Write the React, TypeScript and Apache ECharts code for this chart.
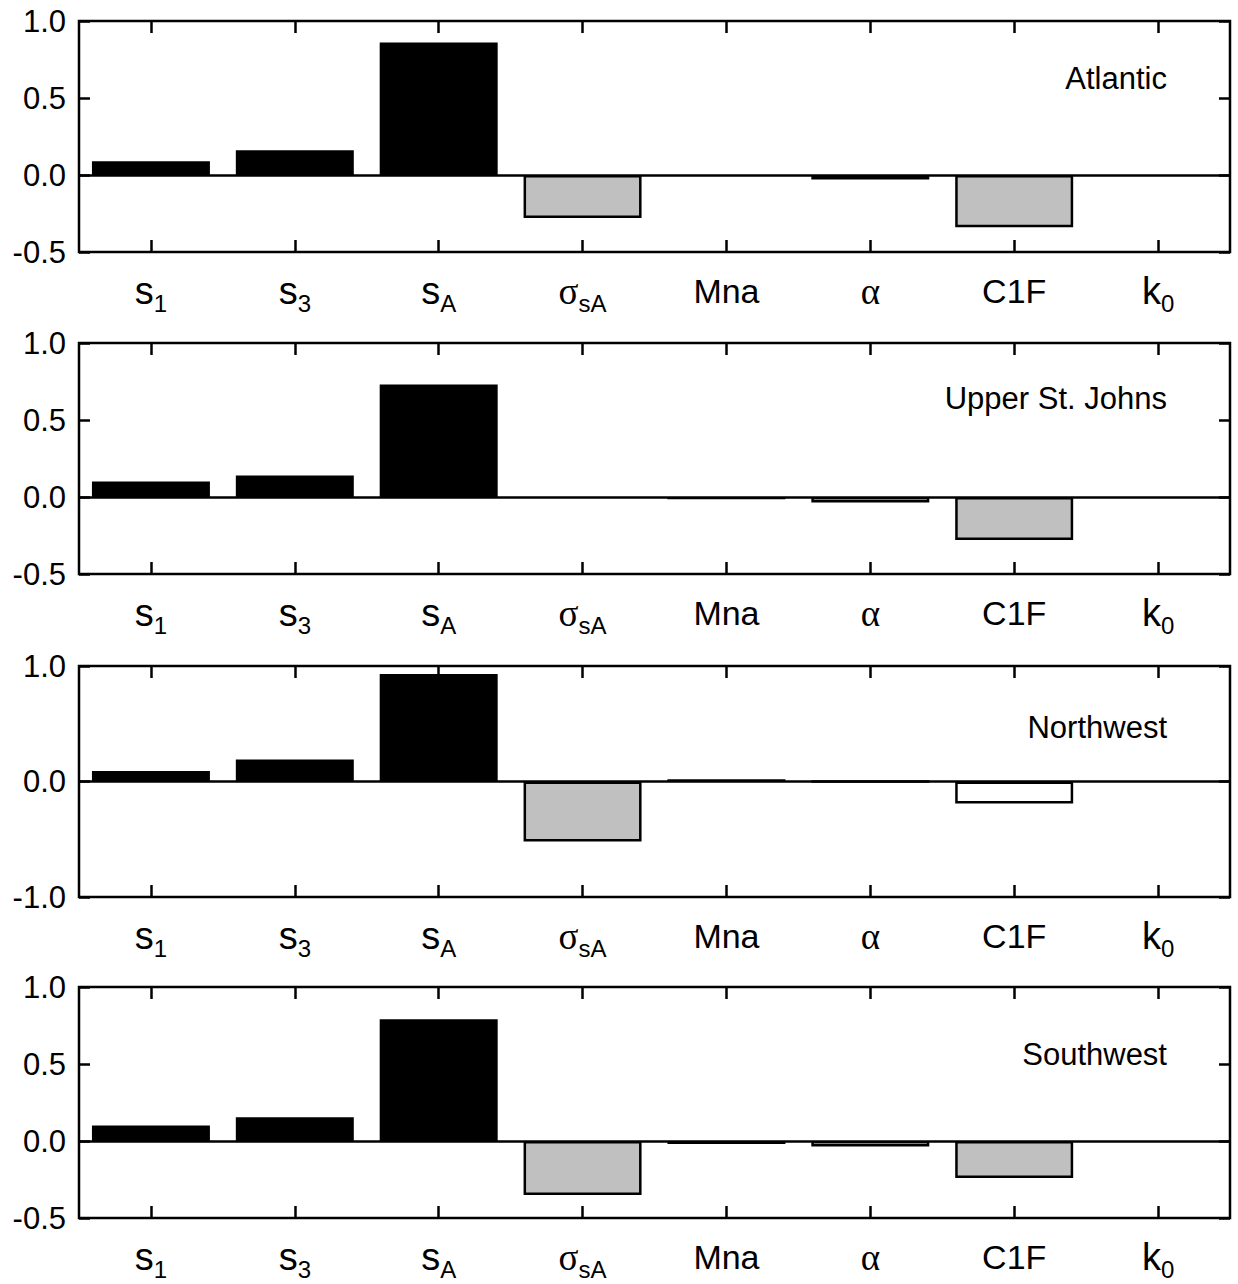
import React, { useEffect, useRef } from "react";
import * as echarts from "echarts";

const CATEGORIES = ["s1", "s3", "sA", "σsA", "Mna", "α", "C1F", "k0"];
const CATEGORY_LABELS = [
  "{s|s}{sub|1}",
  "{s|s}{sub|3}",
  "{s|s}{sub|A}",
  "{gr|σ}{sub|sA}",
  "{m|Mna}",
  "{gr|α}",
  "{m|C1F}",
  "{s|k}{sub|0}",
];
const PANEL_NAMES = ["Atlantic", "Upper St. Johns", "Northwest", "Southwest"];

const ATLANTIC = [0.09, 0.16, 0.86, -0.28, 0, -0.03, -0.34, 0];
const UPPER_ST_JOHNS = [0.1, 0.14, 0.73, 0, -0.015, -0.035, -0.28, 0];
const NORTHWEST = [0.09, 0.19, 0.93, -0.52, 0.02, 0, -0.19, 0];
const SOUTHWEST = [0.1, 0.155, 0.79, -0.35, -0.02, -0.035, -0.24, 0];

// k = black, g = grey, w = white (outlined)
const ATLANTIC_FILL = ["k", "k", "k", "g", "k", "w", "g", "k"];
const UPPER_ST_JOHNS_FILL = ["k", "k", "k", "k", "k", "w", "g", "k"];
const NORTHWEST_FILL = ["k", "k", "k", "g", "k", "w", "w", "k"];
const SOUTHWEST_FILL = ["k", "k", "k", "g", "k", "w", "g", "k"];

const Y_MIN = [-0.5, -0.5, -1, -0.5];
const Y_MAX = [1, 1, 1, 1];
const Y_INTERVAL = [0.5, 0.5, 1, 0.5];

const PANEL_VALUES = [ATLANTIC, UPPER_ST_JOHNS, NORTHWEST, SOUTHWEST];
const PANEL_FILLS = [ATLANTIC_FILL, UPPER_ST_JOHNS_FILL, NORTHWEST_FILL, SOUTHWEST_FILL];

const GRID_TOPS = [21, 343, 666, 987];
const GRID_HEIGHT = 231;
const TITLE_Y = [78, 398, 727, 1054];
const FONT = "'Liberation Sans', Arial, sans-serif";
const COLORS: Record<string, string> = { k: "#000000", g: "#c0c0c0", w: "#ffffff" };

export default function App() {
  const ref = useRef<HTMLDivElement>(null);
  useEffect(() => {
    if (!ref.current) return;
    const chart = echarts.init(ref.current, null, { renderer: "svg" });

    const grid: any[] = [];
    const xAxis: any[] = [];
    const yAxis: any[] = [];
    const series: any[] = [];
    const graphic: any[] = [];

    const tickStyle = { color: "#000", width: 2.5 };
    const LH = 54;

    for (let i = 0; i < 4; i++) {
      grid.push({
        left: 79,
        right: 8,
        top: GRID_TOPS[i],
        height: GRID_HEIGHT,
        show: true,
        borderColor: "#000",
        borderWidth: 2.5,
        backgroundColor: "transparent",
      });
      xAxis.push({
        type: "category",
        gridIndex: i,
        data: CATEGORIES,
        position: "bottom",
        axisLine: { show: false, onZero: false },
        axisTick: { show: true, inside: true, length: 12, alignWithLabel: true, lineStyle: tickStyle },
        axisLabel: {
          show: true,
          margin: 12,
          interval: 0,
          formatter: (_v: string, idx: number) => CATEGORY_LABELS[idx],
          rich: {
            m: { fontSize: 34, fontFamily: FONT, color: "#000", lineHeight: LH },
            s: { fontSize: 38, fontFamily: FONT, color: "#000", lineHeight: LH },
            gr: { fontSize: 37, fontFamily: "'Liberation Serif', serif", color: "#000", lineHeight: LH },
            sub: { fontSize: 24, fontFamily: FONT, color: "#000", lineHeight: 28, padding: [24, 0, 0, 0] },
          },
        },
        splitLine: { show: false },
      });
      xAxis.push({
        type: "category",
        gridIndex: i,
        data: CATEGORIES,
        position: "top",
        axisLine: { show: false, onZero: false },
        axisTick: { show: true, inside: true, length: 12, alignWithLabel: true, lineStyle: tickStyle },
        axisLabel: { show: false },
        splitLine: { show: false },
      });
      const yCommon = {
        type: "value",
        gridIndex: i,
        min: Y_MIN[i],
        max: Y_MAX[i],
        interval: Y_INTERVAL[i],
        axisLine: { show: false },
        axisTick: { show: true, inside: true, length: 11, lineStyle: tickStyle },
        splitLine: { show: false },
      };
      yAxis.push({
        ...yCommon,
        position: "left",
        axisLabel: {
          show: true,
          margin: 13,
          fontSize: 31,
          fontFamily: FONT,
          color: "#000",
          formatter: (v: number) => v.toFixed(1),
        },
      });
      yAxis.push({
        ...yCommon,
        position: "right",
        axisLabel: { show: false },
      });

      const values = PANEL_VALUES[i];
      const fills = PANEL_FILLS[i];
      series.push({
        type: "bar",
        xAxisIndex: 2 * i,
        yAxisIndex: 2 * i,
        barWidth: "82%",
        data: values.map((v, j) => ({
          value: v,
          itemStyle: {
            color: COLORS[fills[j]],
            borderColor: "#000",
            borderWidth: fills[j] === "k" ? 0 : 2.5,
          },
        })),
        markLine: {
          silent: true,
          symbol: ["none", "none"],
          label: { show: false },
          lineStyle: { color: "#000", width: 2.5, type: "solid" },
          data: [{ yAxis: 0 }],
        },
      });

      graphic.push({
        type: "text",
        x: 1167,
        y: TITLE_Y[i],
        style: {
          text: PANEL_NAMES[i],
          fill: "#000",
          font: `31px ${FONT}`,
          textAlign: "right",
          textVerticalAlign: "middle",
        },
      });
    }

    chart.setOption({
      animation: false,
      backgroundColor: "#ffffff",
      grid,
      xAxis,
      yAxis,
      series,
      graphic,
    });
    return () => chart.dispose();
  }, []);

  return (
    <div
      ref={ref}
      style={{ position: "fixed", left: 0, top: 0, width: 1238, height: 1284 }}
    />
  );
}
